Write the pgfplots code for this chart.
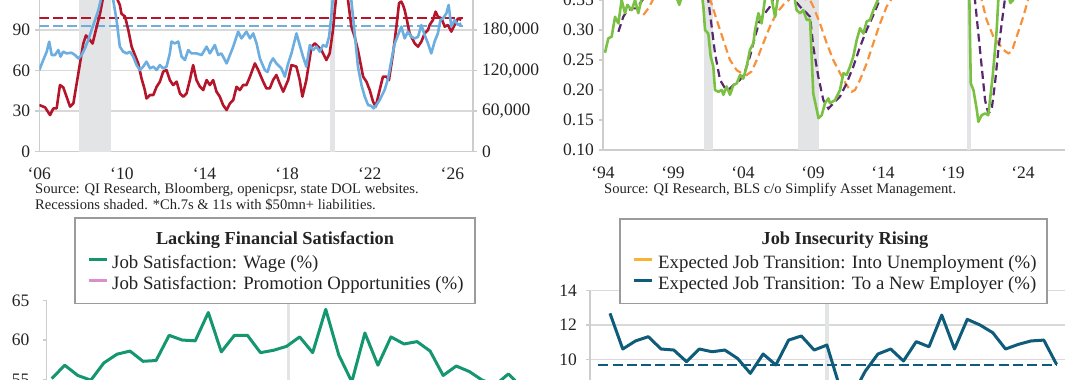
\documentclass[border=0pt]{standalone}
\usepackage{fontspec}
\setmainfont{Liberation Serif}
\usepackage{pgfplots}
\pgfplotsset{compat=1.18}
\definecolor{qred}{RGB}{181,21,43}
\definecolor{qblue}{RGB}{108,174,224}
\definecolor{qgreen}{RGB}{122,193,67}
\definecolor{qpurple}{RGB}{88,40,110}
\definecolor{qorange}{RGB}{247,146,58}
\definecolor{bgreen}{RGB}{20,150,112}
\definecolor{bpink}{RGB}{218,143,203}
\definecolor{bteal}{RGB}{14,92,122}
\definecolor{byellow}{RGB}{249,178,51}
\definecolor{recgray}{RGB}{227,228,230}
\definecolor{gridc}{RGB}{217,217,217}
\definecolor{axgray}{RGB}{205,205,205}
\definecolor{boxgray}{RGB}{155,155,155}
\definecolor{txt}{RGB}{35,35,35}
\newcommand\tickfont{\fontsize{17.5}{20}\selectfont}
\newcommand\srcfont{\fontsize{14.6}{16}\selectfont}
\newcommand\legfont{\fontsize{18.8}{21}\selectfont}
\newcommand\titlefont{\bfseries\fontsize{18.3}{21}\selectfont}
\pgfplotsset{panel/.style={scale only axis, anchor=south west,
  axis line style={draw=axgray, line width=1.5pt},
  tick style={draw=axgray, line width=1.5pt}, major tick length=4pt, tick align=outside,
  tick label style={font=\tickfont, text=txt},
  /pgf/number format/assume math mode=true,
  grid style={draw=gridc, line width=1.5pt},
  yticklabel style={anchor=east, inner sep=0pt, xshift=-5pt},
  xticklabel style={anchor=base, inner sep=0pt},
  xtick style={draw=none}}}
\begin{document}
\begin{tikzpicture}
\useasboundingbox (0,0) rectangle (1080pt,380pt);
\clip (0,0) rectangle (1080pt,380pt);
% ---------------- top left ----------------
\begin{axis}[panel, at={(39.3pt,228.3pt)}, width=433.7pt, height=202.8pt,
  xmin=2006, xmax=2027, ymin=0, ymax=150,
  axis x line*=bottom, axis y line*=left,
  ytick={0,30,60,90}, yticklabels={0,30,60,90}, ymajorgrids,
  xtick={2006,2010,2014,2018,2022,2026},
  xticklabels={{\textquoteleft06},{\textquoteleft10},{\textquoteleft14},{\textquoteleft18},{\textquoteleft22},{\textquoteleft26}},
  xticklabel style={yshift=-24pt}]
\fill[recgray] (axis cs:2007.92,0) rectangle (axis cs:2009.47,150);
\fill[recgray] (axis cs:2020.06,0) rectangle (axis cs:2020.30,150);
\addplot[qred, line width=2pt, dash pattern=on 10pt off 4pt] coordinates {(2006,99.1) (2026.5,99.1)};
\addplot[qblue, line width=2pt, dash pattern=on 10pt off 4pt] coordinates {(2006,93.2) (2026.5,93.2)};
\addplot[qred, line width=2.6pt, line join=round] coordinates {
(2006.00,34.5) (2006.28,32.8) (2006.52,27.1) (2006.68,32.0) (2006.84,32.0) (2007.00,49.3)
(2007.16,47.6) (2007.32,40.7) (2007.49,33.3) (2007.65,35.7) (2007.81,50.5) (2007.97,65.3)
(2008.13,80.0) (2008.26,86.0) (2008.45,82.6) (2008.58,80.0) (2008.78,92.5) (2008.94,102.0)
(2009.10,115) (2009.35,135) (2009.55,130) (2009.74,114) (2009.90,108.5) (2009.98,102.0)
(2010.15,100.0) (2010.31,90.0) (2010.47,77.7) (2010.63,71.5) (2010.79,65.3) (2010.95,54.2)
(2011.11,45.6) (2011.19,39.4) (2011.36,41.9) (2011.52,41.9) (2011.68,48.0) (2011.84,51.8)
(2012.00,59.2) (2012.16,60.4) (2012.32,53.0) (2012.48,49.3) (2012.65,51.8) (2012.81,43.1)
(2012.97,40.7) (2013.13,43.1) (2013.29,53.0) (2013.45,64.1) (2013.61,53.0) (2013.78,48.0)
(2013.94,45.6) (2014.10,53.0) (2014.26,49.3) (2014.42,53.0) (2014.58,44.4) (2014.74,40.7)
(2014.90,34.5) (2015.07,30.8) (2015.23,35.7) (2015.39,38.2) (2015.55,48.0) (2015.71,45.6)
(2015.87,49.3) (2016.03,49.3) (2016.20,55.5) (2016.44,65.3) (2016.60,60.4) (2016.84,51.8)
(2017.00,46.8) (2017.16,46.8) (2017.32,53.0) (2017.48,56.7) (2017.64,50.5) (2017.81,44.4)
(2018.05,53.0) (2018.21,64.1) (2018.45,62.9) (2018.61,53.0) (2018.74,40.7) (2018.93,53.0)
(2019.18,77.7) (2019.34,80.1) (2019.50,77.7) (2019.66,75.2) (2019.90,67.8) (2020.06,72.7)
(2020.22,90.0) (2020.31,104.8) (2020.40,118) (2020.60,140) (2020.80,130) (2020.95,112)
(2021.11,92.5) (2021.27,85.0) (2021.43,75.0) (2021.68,55.5) (2021.84,51.8) (2022.00,45.6)
(2022.16,37.0) (2022.29,33.3) (2022.48,45.6) (2022.64,55.5) (2022.81,55.5) (2022.93,53.0)
(2023.13,72.7) (2023.29,92.5) (2023.42,110) (2023.53,111) (2023.61,108.5) (2023.69,104.8)
(2023.80,97.4) (2023.93,87.5) (2024.18,80.0) (2024.34,77.7) (2024.50,81.4) (2024.66,87.5)
(2024.82,90.0) (2024.90,93.7) (2025.06,97.4) (2025.19,103.6) (2025.30,99.9) (2025.47,98.6)
(2025.63,92.5) (2025.79,93.7) (2025.95,88.8) (2026.11,93.7) (2026.27,98.6) (2026.43,97.4)};
\addplot[qblue, line width=2.6pt, line join=round] coordinates {
(2006.00,60.4) (2006.16,66.6) (2006.36,74.0) (2006.48,81.4) (2006.60,71.5) (2006.76,71.5)
(2006.92,75.2) (2007.03,70.3) (2007.16,74.0) (2007.32,72.7) (2007.56,73.2) (2007.73,71.5)
(2007.89,69.0) (2008.05,71.5) (2008.21,76.4) (2008.37,82.6) (2008.53,90.0) (2008.70,97.4)
(2008.86,104.8) (2009.02,115) (2009.25,130) (2009.45,125) (2009.58,112) (2009.74,97.4)
(2009.90,77.7) (2010.06,74.0) (2010.23,72.7) (2010.39,74.0) (2010.55,70.3) (2010.71,64.1)
(2010.87,60.4) (2011.03,62.9) (2011.19,66.6) (2011.36,61.6) (2011.52,62.9) (2011.68,60.4)
(2011.84,64.1) (2012.00,61.6) (2012.16,62.9) (2012.32,72.7) (2012.40,81.4) (2012.56,80.1)
(2012.73,81.4) (2012.89,70.3) (2013.05,67.8) (2013.21,75.2) (2013.37,72.7) (2013.61,72.7)
(2013.86,71.5) (2014.10,77.7) (2014.26,72.7) (2014.50,78.9) (2014.66,71.5) (2014.82,72.7)
(2015.07,65.3) (2015.23,71.5) (2015.39,77.7) (2015.63,88.8) (2015.79,83.8) (2016.03,88.8)
(2016.20,83.8) (2016.36,87.5) (2016.52,80.1) (2016.68,69.0) (2016.92,60.4) (2017.05,59.0)
(2017.20,66.0) (2017.32,69.0) (2017.48,65.3) (2017.72,61.6) (2017.89,55.5) (2018.05,65.3)
(2018.21,72.7) (2018.45,87.5) (2018.61,78.9) (2018.77,70.3) (2018.93,62.9) (2019.10,78.9)
(2019.26,75.2) (2019.42,77.7) (2019.58,74.0) (2019.74,78.9) (2019.90,77.7) (2020.03,85.0)
(2020.14,100.0) (2020.22,115) (2020.50,140) (2020.90,130) (2021.11,112) (2021.27,87.5)
(2021.43,62.9) (2021.60,49.3) (2021.76,40.7) (2021.92,34.5) (2022.08,33.8) (2022.19,32.0)
(2022.32,34.5) (2022.48,38.2) (2022.72,45.6) (2022.89,54.2) (2023.05,67.8) (2023.21,80.1)
(2023.37,86.3) (2023.53,92.5) (2023.69,83.8) (2023.85,88.8) (2024.01,85.0) (2024.18,83.8)
(2024.34,85.0) (2024.50,93.7) (2024.66,86.3) (2024.82,80.1) (2024.98,72.7) (2025.14,81.4)
(2025.30,87.5) (2025.42,97.4) (2025.55,98.6) (2025.71,102.3) (2025.82,108.5) (2025.95,92.5)
(2026.11,97.4) (2026.27,93.7) (2026.43,94.9)};
\end{axis}
\begin{axis}[panel, at={(39.3pt,228.3pt)}, width=433.7pt, height=202.8pt,
  xmin=2006, xmax=2027, ymin=0, ymax=300000,
  axis x line=none, axis y line*=right,
  ytick={0,60000,120000,180000}, yticklabels={0,{60,000},{120,000},{180,000}},
  yticklabel style={anchor=west, inner sep=0pt, xshift=10pt}]
\addplot[draw=none, forget plot] coordinates {(2006,0)};
\end{axis}
% ---------------- top right ----------------
\begin{axis}[panel, at={(603pt,230pt)}, width=462pt, height=210pt,
  xmin=1994, xmax=2027, ymin=0.10, ymax=0.45,
  axis x line*=bottom, axis y line*=left,
  ytick={0.10,0.15,0.20,0.25,0.30,0.35}, yticklabels={0.10,0.15,0.20,0.25,0.30,0.35},
  xtick={1994,1999,2004,2009,2014,2019,2024},
  xticklabels={{\textquoteleft94},{\textquoteleft99},{\textquoteleft04},{\textquoteleft09},{\textquoteleft14},{\textquoteleft19},{\textquoteleft24}},
  xticklabel style={yshift=-25pt}]
\fill[recgray] (axis cs:2001.21,0.10) rectangle (axis cs:2001.88,0.45);
\fill[recgray] (axis cs:2007.95,0.10) rectangle (axis cs:2009.45,0.45);
\fill[recgray] (axis cs:2020.00,0.10) rectangle (axis cs:2020.26,0.45);
\addplot[qorange, line width=2.2pt, dash pattern=on 8pt off 4.5pt] coordinates {
(1996.88,0.325) (1997.24,0.336) (1997.60,0.352) (1998.5,0.38) (2000,0.40) (2001.2,0.37)
(2001.64,0.352) (2002.12,0.317) (2002.60,0.283) (2003.07,0.250) (2003.55,0.233) (2003.90,0.228)
(2004.26,0.225) (2004.62,0.231) (2004.98,0.250) (2005.45,0.278) (2005.93,0.306) (2006.40,0.328)
(2006.88,0.342) (2007.36,0.352) (2007.7,0.355) (2008.3,0.352) (2008.79,0.350) (2009.02,0.339)
(2009.50,0.311) (2009.98,0.278) (2010.45,0.250) (2010.93,0.228) (2011.40,0.208) (2011.76,0.197)
(2012.00,0.200) (2012.36,0.217) (2012.83,0.244) (2013.31,0.278) (2013.79,0.311) (2014.26,0.339)
(2014.62,0.352) (2015.5,0.38) (2017,0.40) (2019,0.40) (2020.5,0.38) (2021.05,0.350)
(2021.40,0.317) (2021.88,0.289) (2022.24,0.278) (2022.60,0.267) (2022.95,0.261) (2023.19,0.264)
(2023.55,0.289) (2024.02,0.322) (2024.38,0.352) (2025,0.38) (2026,0.40)};
\addplot[qpurple, line width=2.2pt, dash pattern=on 8pt off 4.5pt] coordinates {
(1995.10,0.297) (1995.45,0.322) (1995.69,0.331) (1996.05,0.336) (1996.40,0.336) (1996.88,0.352)
(1997.5,0.38) (1999,0.40) (2000.5,0.40) (2001.2,0.38) (2001.52,0.350) (2001.76,0.306)
(2002.00,0.261) (2002.36,0.217) (2002.71,0.203) (2002.95,0.200) (2003.31,0.208) (2003.79,0.217)
(2004.14,0.231) (2004.50,0.256) (2004.86,0.289) (2005.21,0.317) (2005.57,0.328) (2005.93,0.339)
(2006.17,0.352) (2006.8,0.37) (2007.6,0.352) (2008.07,0.339) (2008.55,0.328) (2008.79,0.322)
(2009.02,0.272) (2009.38,0.222) (2009.74,0.183) (2010.10,0.169) (2010.46,0.178) (2010.93,0.189)
(2011.40,0.211) (2011.88,0.239) (2012.36,0.272) (2012.83,0.300) (2013.31,0.325) (2013.79,0.352)
(2014.5,0.38) (2016,0.40) (2018,0.40) (2019.8,0.40) (2020.3,0.38) (2020.57,0.350)
(2020.81,0.294) (2021.05,0.239) (2021.29,0.183) (2021.52,0.161) (2021.76,0.167) (2022.00,0.211)
(2022.24,0.267) (2022.48,0.311) (2022.71,0.352) (2023.2,0.38) (2024,0.40)};
\addplot[qgreen, line width=2.6pt, line join=round] coordinates {
(1994.14,0.262) (1994.38,0.286) (1994.62,0.289) (1994.86,0.322) (1995.10,0.311) (1995.33,0.350)
(1995.57,0.328) (1995.74,0.342) (1996.05,0.333) (1996.29,0.350) (1996.52,0.328) (1996.76,0.352)
(1997.2,0.38) (1998.0,0.40) (1999.0,0.37) (1999.45,0.342) (1999.8,0.37) (2000.5,0.40)
(2001.0,0.37) (2001.17,0.339) (2001.29,0.300) (2001.52,0.294) (2001.69,0.256) (2001.88,0.239)
(2002.00,0.200) (2002.24,0.197) (2002.48,0.200) (2002.60,0.192) (2002.83,0.206) (2003.07,0.192)
(2003.31,0.208) (2003.55,0.211) (2003.79,0.225) (2004.02,0.219) (2004.26,0.239) (2004.50,0.267)
(2004.74,0.278) (2004.86,0.300) (2005.10,0.328) (2005.33,0.311) (2005.57,0.352) (2005.9,0.37)
(2006.29,0.322) (2006.6,0.37) (2007.3,0.38) (2007.71,0.350) (2007.83,0.333) (2008.07,0.328)
(2008.31,0.333) (2008.55,0.317) (2008.79,0.317) (2009.02,0.194) (2009.27,0.167) (2009.39,0.153)
(2009.62,0.158) (2009.86,0.178) (2010.10,0.186) (2010.21,0.178) (2010.57,0.183) (2010.93,0.200)
(2011.17,0.228) (2011.40,0.225) (2011.64,0.239) (2011.88,0.256) (2012.12,0.283) (2012.36,0.303)
(2012.60,0.294) (2012.83,0.314) (2013.07,0.317) (2013.31,0.333) (2013.67,0.352) (2014.5,0.40)
(2016,0.42) (2018,0.42) (2019.5,0.40) (2020.0,0.38) (2020.17,0.350) (2020.27,0.211)
(2020.46,0.200) (2020.70,0.167) (2020.81,0.147) (2021.05,0.158) (2021.29,0.161) (2021.52,0.158)
(2021.64,0.183) (2021.83,0.222) (2022.00,0.267) (2022.12,0.300) (2022.24,0.352) (2022.7,0.38)
(2023.1,0.345) (2023.3,0.35) (2023.6,0.38) (2024.5,0.40) (2025.5,0.40) (2026.4,0.40)};
\end{axis}
% ---------------- bottom left ----------------
\begin{axis}[panel, at={(46.7pt,-117.45pt)}, width=481.3pt, height=196.75pt,
  xmin=-0.383, xmax=36.5, ymin=40, ymax=65,
  axis x line=none, axis y line*=left,
  ytick={55,60,65}, yticklabels={55,60,65}, yticklabel style={xshift=-8pt}]
\fill[recgray] (axis cs:18.0,40) rectangle (axis cs:18.27,65);
\addplot[bgreen, line width=3pt, line join=round] coordinates {
(0,55.1) (1,56.8) (2,55.5) (3,54.9) (4,57.1) (5,58.2) (6,58.6) (7,57.3) (8,57.4) (9,60.6)
(10,60.0) (11,59.9) (12,63.5) (13,58.5) (14,60.6) (15,60.6) (16,58.4) (17,58.7) (18,59.2)
(19,60.4) (20,58.4) (21,63.9) (22,58.1) (23,54.7) (24,60.9) (25,56.8) (26,60.4) (27,59.5)
(28,59.8) (29,58.6) (30,55.5) (31,56.7) (32,56.0) (33,54.9) (34,54.3) (35,55.7) (36,54.0)};
\end{axis}
% ---------------- bottom right ----------------
\begin{axis}[panel, at={(590pt,-150.8pt)}, width=475pt, height=240.1pt,
  xmin=-1.567, xmax=35.66, ymin=0, ymax=14,
  axis x line=none, axis y line*=left,
  ytick={8,10,12,14}, yticklabels={8,10,12,14}, ymajorgrids, yticklabel style={xshift=-4pt}]
\fill[recgray] (axis cs:16.85,0) rectangle (axis cs:17.18,14);
\addplot[bteal, line width=2pt, dash pattern=on 10pt off 4.3pt] coordinates {(-0.92,9.67) (35,9.67)};
\addplot[bteal, line width=3pt, line join=round] coordinates {
(0,12.68) (1,10.6) (2,11.07) (3,11.32) (4,10.6) (5,10.54) (6,9.86) (7,10.6) (8,10.44) (9,10.54)
(10,10.05) (11,9.18) (12,10.31) (13,9.67) (14,11.12) (15,11.36) (16,10.54) (17,10.83) (18,8.4)
(19,7.9) (20,9.3) (21,10.31) (22,10.6) (23,9.9) (24,11.03) (25,10.73) (26,12.58) (27,10.6)
(28,12.33) (29,12.0) (30,11.55) (31,10.6) (32,10.87) (33,11.07) (34,11.12) (35,9.7)};
\end{axis}
% ---------------- annotations ----------------
\node[anchor=base west, font=\srcfont, text=txt, inner sep=0pt] at (35pt,186.5pt) {Source: QI Research, Bloomberg, openicpsr, state DOL websites.};
\node[anchor=base west, font=\srcfont, text=txt, inner sep=0pt] at (35pt,170.5pt) {Recessions shaded. *Ch.7s \& 11s with \$50mn+ liabilities.};
\node[anchor=base west, font=\srcfont, text=txt, inner sep=0pt] at (604pt,186.5pt) {Source: QI Research, BLS c/o Simplify Asset Management.};
\draw[boxgray, line width=1.5pt, fill=white] (75pt,76.5pt) rectangle (475pt,162pt);
\draw[boxgray, line width=1.5pt, fill=white] (620pt,76.5pt) rectangle (1047pt,161pt);
\node[anchor=base, font=\titlefont, text=txt, inner sep=0pt] at (275pt,135pt) {Lacking Financial Satisfaction};
\node[anchor=base, font=\titlefont, text=txt, inner sep=0pt] at (845pt,135pt) {Job Insecurity Rising};
% legends
\begin{axis}[at={(0pt,0pt)}, anchor=south west, scale only axis, width=1080pt, height=380pt,
  xmin=0, xmax=1, ymin=0, ymax=1, hide axis,
  legend style={at={(0.08056,0.2757)}, anchor=west, draw=none, fill=none, inner sep=0pt,
    row sep=3.5pt, column sep=4pt, font=\legfont, text=txt,
    nodes={inner sep=0pt, text height=13pt, text depth=4.5pt}},
  legend cell align=left,
  legend image code/.code={\draw[#1] (0pt,5.5pt) -- (18pt,5.5pt);}]
\addplot[draw=none, forget plot] coordinates {(0,0)};
\addlegendimage{bgreen, line width=3pt}
\addlegendentry{Job Satisfaction: Wage (\%)}
\addlegendimage{bpink, line width=3pt}
\addlegendentry{Job Satisfaction: Promotion Opportunities (\%)}
\end{axis}
\begin{axis}[at={(0pt,0pt)}, anchor=south west, scale only axis, width=1080pt, height=380pt,
  xmin=0, xmax=1, ymin=0, ymax=1, hide axis,
  legend style={at={(0.5852,0.2757)}, anchor=west, draw=none, fill=none, inner sep=0pt,
    row sep=3.5pt, column sep=5pt, font=\legfont, text=txt,
    nodes={inner sep=0pt, text height=13pt, text depth=4.5pt}},
  legend cell align=left,
  legend image code/.code={\draw[#1] (0pt,5.5pt) -- (18pt,5.5pt);}]
\addplot[draw=none, forget plot] coordinates {(0,0)};
\addlegendimage{byellow, line width=3pt}
\addlegendentry{Expected Job Transition: Into Unemployment (\%)}
\addlegendimage{bteal, line width=3pt}
\addlegendentry{Expected Job Transition: To a New Employer (\%)}
\end{axis}
\end{tikzpicture}
\end{document}
